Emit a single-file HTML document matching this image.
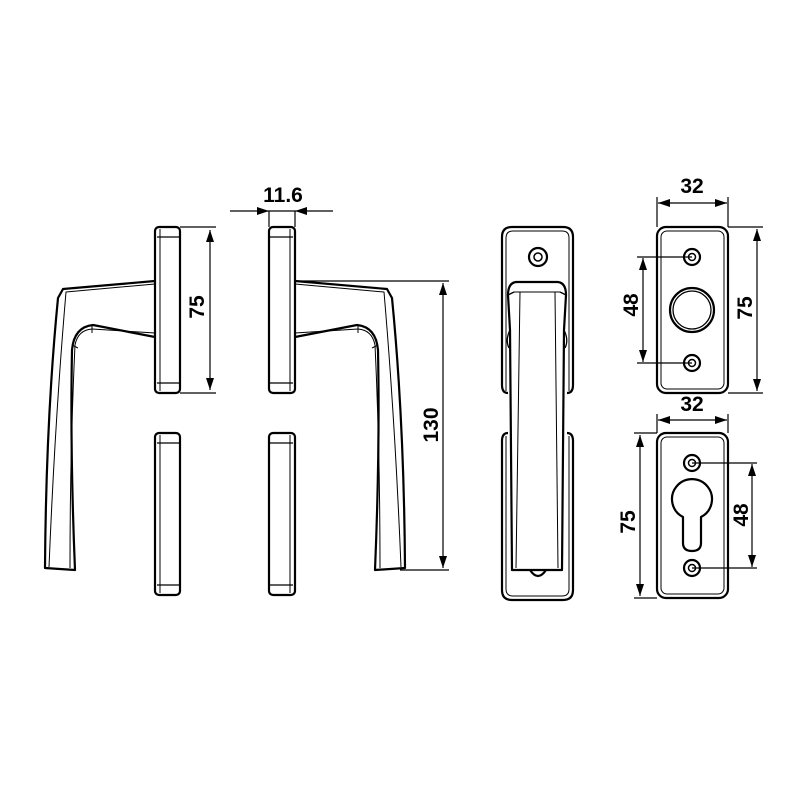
<!DOCTYPE html>
<html><head><style>html,body{margin:0;padding:0;background:#fff}svg{display:block}</style></head>
<body>
<svg width="800" height="800" viewBox="0 0 800 800" xmlns="http://www.w3.org/2000/svg" font-family="Liberation Sans, Arial, sans-serif">
<defs>
<marker id="a" viewBox="0 0 12 8" refX="12" refY="4" markerWidth="12" markerHeight="8" markerUnits="userSpaceOnUse" orient="auto-start-reverse"><path d="M0,0 L12,4 L0,8 z" fill="#000"/></marker>
</defs>
<g fill="none" stroke="#000" stroke-width="2.2" stroke-linejoin="round">
<rect x="155" y="227" width="25" height="166" rx="4"/>
<line x1="157" y1="237" x2="180" y2="237" stroke-width="1.3"/><line x1="157" y1="383" x2="180" y2="383" stroke-width="1.3"/>
<line x1="160" y1="229" x2="160" y2="391" stroke-width="1"/>
<rect x="155" y="433" width="25" height="162" rx="4"/>
<line x1="157" y1="443" x2="180" y2="443" stroke-width="1.3"/><line x1="157" y1="585" x2="180" y2="585" stroke-width="1.3"/>
<line x1="160" y1="435" x2="160" y2="593" stroke-width="1"/>
<rect x="269" y="227" width="26" height="166" rx="4"/>
<line x1="269" y1="237" x2="293" y2="237" stroke-width="1.3"/><line x1="269" y1="383" x2="293" y2="383" stroke-width="1.3"/>
<line x1="290" y1="229" x2="290" y2="391" stroke-width="1"/>
<rect x="269" y="433" width="26" height="162" rx="4"/>
<line x1="269" y1="443" x2="293" y2="443" stroke-width="1.3"/><line x1="269" y1="585" x2="293" y2="585" stroke-width="1.3"/>
<line x1="290" y1="435" x2="290" y2="593" stroke-width="1"/>
<path d="M155,281 L63,289 L58,298 Q46,420 45,568 L75,570 Q70,450 72,350 Q74,327 93,325 L155,337"/>
<path d="M155,284 L66,292 Q55,420 49,567" stroke-width="1"/>
<path d="M155,333 L92,329 Q78,330 75,345 Q70,450 70,568" stroke-width="1"/>
<path d="M92,325 L92,333 M72,345 L78,348" stroke-width="1"/>
<path d="M295,281 L387,289 L392,298 Q404,420 405,568 L375,570 Q380,450 378,350 Q376,327 357,325 L295,337"/>
<path d="M295,284 L384,292 Q395,420 401,567" stroke-width="1"/>
<path d="M295,333 L358,329 Q372,330 375,345 Q380,450 380,568" stroke-width="1"/>
<path d="M358,325 L358,333 M378,345 L372,348" stroke-width="1"/>
<path d="M508,393 Q502,393 502,385 L502,237 Q502,227 512,227 L563,227 Q573,227 573,237 L573,385 Q573,393 567,393"/>
<path d="M506,391 L506,238 Q506,231 513,231 L562,231 Q569,231 569,238 L569,391" stroke-width="1"/>
<path d="M508,433 Q502,433 502,441 L502,590 Q502,600 512,600 L563,600 Q573,600 573,590 L573,441 Q573,433 567,433"/>
<path d="M506,436 L506,589 Q506,596 513,596 L562,596 Q569,596 569,589 L569,436" stroke-width="1"/>
<circle cx="538" cy="257" r="9"/><circle cx="538" cy="257" r="4" stroke-width="1.5"/>
<path d="M530,570 Q538,582 546,570" />
<path d="M508,295 Q508,283 516,282 L558,282 Q566,283 566,295 L564,330 L562,570 L512,570 L510,330 Z"/>
<path d="M514,292 L560,292 M520,292 L516,568 M555,292 L558,568" stroke-width="1"/>
<path d="M508,295 L514,292 M566,295 L560,292 M510,330 Q505,340 509,348 M564,330 Q569,340 565,348" stroke-width="1.3"/>
<rect x="657" y="227" width="71" height="166" rx="9"/>
<rect x="661" y="231" width="63" height="158" rx="6" stroke-width="1"/>
<circle cx="692" cy="257" r="8"/><circle cx="692" cy="257" r="3.5" stroke-width="1.5"/>
<circle cx="692" cy="363" r="8"/><circle cx="692" cy="363" r="3.5" stroke-width="1.5"/>
<circle cx="692" cy="310" r="22"/><circle cx="692" cy="310" r="19" stroke-width="1.3"/>
<rect x="657" y="433" width="71" height="165" rx="9"/>
<rect x="661" y="437" width="63" height="157" rx="6" stroke-width="1"/>
<circle cx="692" cy="463" r="8"/><circle cx="692" cy="463" r="3.5" stroke-width="1.5"/>
<circle cx="692" cy="568" r="8"/><circle cx="692" cy="568" r="3.5" stroke-width="1.5"/>
<path d="M683,517 A20,20 0 1 1 701,517 L701,543 Q701,551 692,551 Q683,551 683,543 Z"/>
</g>
<g fill="none" stroke="#000" stroke-width="1.2">
<line x1="230" y1="211" x2="269" y2="211" marker-end="url(#a)"/>
<line x1="333" y1="211" x2="295" y2="211" marker-end="url(#a)"/>
<line x1="269" y1="211" x2="295" y2="211"/>
<line x1="269" y1="211" x2="269" y2="227"/><line x1="295" y1="211" x2="295" y2="227"/>
<line x1="180" y1="227" x2="216" y2="227"/><line x1="180" y1="393" x2="216" y2="393"/>
<line x1="210" y1="230" x2="210" y2="390" marker-start="url(#a)" marker-end="url(#a)"/>
<line x1="295" y1="281" x2="449" y2="281"/><line x1="400" y1="570" x2="449" y2="570"/>
<line x1="443" y1="283" x2="443" y2="568" marker-start="url(#a)" marker-end="url(#a)"/>
<line x1="657" y1="197" x2="657" y2="227"/><line x1="728" y1="197" x2="728" y2="227"/>
<line x1="658" y1="203" x2="727" y2="203" marker-start="url(#a)" marker-end="url(#a)"/>
<line x1="637" y1="257" x2="692" y2="257"/><line x1="637" y1="363" x2="692" y2="363"/>
<line x1="643" y1="258" x2="643" y2="362" marker-start="url(#a)" marker-end="url(#a)"/>
<line x1="728" y1="227" x2="763" y2="227"/><line x1="728" y1="393" x2="763" y2="393"/>
<line x1="757" y1="229" x2="757" y2="391" marker-start="url(#a)" marker-end="url(#a)"/>
<line x1="657" y1="414" x2="657" y2="433"/><line x1="728" y1="414" x2="728" y2="433"/>
<line x1="658" y1="420" x2="727" y2="420" marker-start="url(#a)" marker-end="url(#a)"/>
<line x1="634" y1="433" x2="657" y2="433"/><line x1="634" y1="598" x2="657" y2="598"/>
<line x1="640" y1="435" x2="640" y2="596" marker-start="url(#a)" marker-end="url(#a)"/>
<line x1="692" y1="463" x2="757" y2="463"/><line x1="692" y1="568" x2="757" y2="568"/>
<line x1="752" y1="464" x2="752" y2="567" marker-start="url(#a)" marker-end="url(#a)"/>
</g>
<g font-size="21" font-weight="bold" fill="#000" text-anchor="middle">
<text x="283" y="202">11.6</text>
<text x="692" y="193">32</text>
<text x="692" y="411">32</text>
<text transform="translate(204,307) rotate(-90)">75</text>
<text transform="translate(438,425) rotate(-90)">130</text>
<text transform="translate(638,305) rotate(-90)">48</text>
<text transform="translate(752,308) rotate(-90)">75</text>
<text transform="translate(635,522) rotate(-90)">75</text>
<text transform="translate(748,515) rotate(-90)">48</text>
</g>
</svg>
</body></html>
